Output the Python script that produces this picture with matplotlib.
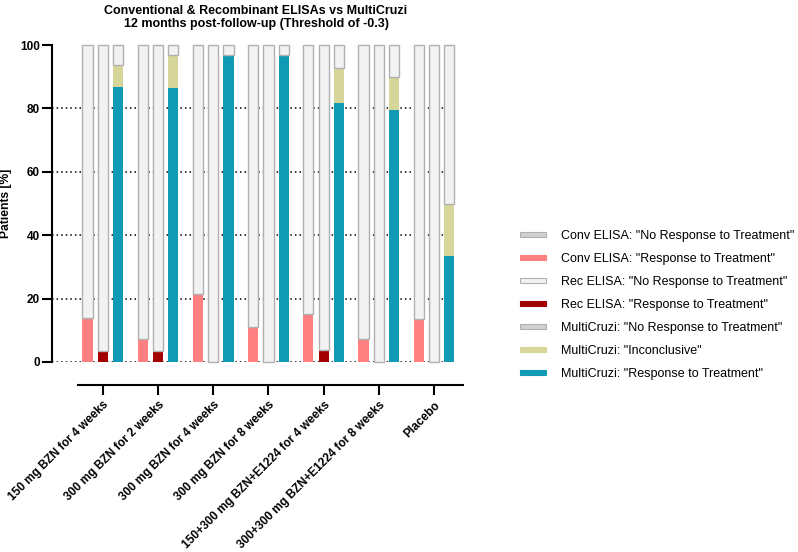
import matplotlib
matplotlib.use("Agg")
import matplotlib.pyplot as plt
from matplotlib.patches import Rectangle
import numpy as np

plt.rcParams['font.family'] = ['Liberation Sans', 'DejaVu Sans']

categories = ["150 mg BZN for 4 weeks", "300 mg BZN for 2 weeks", "300 mg BZN for 4 weeks",
              "300 mg BZN for 8 weeks", "150+300 mg BZN+E1224 for 4 weeks",
              "300+300 mg BZN+E1224 for 8 weeks", "Placebo"]

conv_resp = [13.8, 7.1, 21.6, 11.0, 15.0, 7.1, 13.6]
conv_nores = [86.2, 92.9, 78.4, 89.0, 85.0, 92.9, 86.4]
rec_resp = [3.4, 3.6, 0.0, 0.0, 3.9, 0.0, 0.0]
rec_nores = [96.6, 96.4, 100.0, 100.0, 96.1, 100.0, 100.0]
mc_resp = [86.8, 86.3, 96.7, 96.7, 81.7, 79.5, 33.3]
mc_incon = [6.8, 10.4, 0.0, 0.0, 11.2, 10.4, 16.7]
mc_nores = [6.4, 3.3, 3.3, 3.3, 7.1, 10.1, 50.0]

yticks = [0, 20, 40, 60, 80, 100]

C_PINK = '#FF8080'
C_RED = '#A30000'
C_TEAL = '#119AB4'
C_INC = '#D6D59A'
C_GRAYF = '#F2F2F2'
C_GRAYE = '#B0B0B0'

fig = plt.figure(figsize=(7.98, 5.52), dpi=100)
ax = fig.add_axes([52/798, 1-362/552, (460-52)/798, (362-45)/552])

x = np.arange(len(categories))
off = 0.277
w = 0.185

for yv in yticks[:-1]:
    ax.axhline(yv, xmin=0, xmax=0.985, color='black', lw=1.1, ls=(0, (1, 2)), zorder=0)

# Conv ELISA
ax.bar(x - off, conv_resp, w, color=C_PINK, lw=0, zorder=2)
ax.bar(x - off, conv_nores, w, bottom=conv_resp, color=C_GRAYF, edgecolor=C_GRAYE, lw=1.0, zorder=2)
# Rec ELISA
ax.bar(x, rec_resp, w, color=C_RED, lw=0, zorder=2)
ax.bar(x, rec_nores, w, bottom=rec_resp, color=C_GRAYF, edgecolor=C_GRAYE, lw=1.0, zorder=2)
# MultiCruzi
ax.bar(x + off, mc_resp, w, color=C_TEAL, lw=0, zorder=2)
ax.bar(x + off, mc_incon, w, bottom=mc_resp, color=C_INC, lw=0, zorder=2)
ax.bar(x + off, mc_nores, w, bottom=np.add(mc_resp, mc_incon), color=C_GRAYF,
       edgecolor=C_GRAYE, lw=1.0, zorder=2)

for p in ax.patches:
    p.set_clip_on(False)

ax.set_xlim(-0.92, 6.47)
ax.set_ylim(0, 100)
ax.spines['top'].set_visible(False)
ax.spines['right'].set_visible(False)
ax.spines['left'].set_linewidth(1.5)
ax.spines['left'].set_bounds(0, 100)
ax.spines['bottom'].set_linewidth(1.5)
ax.spines['bottom'].set_position(('outward', 16.5))
ax.spines['bottom'].set_bounds(-0.45, 6.52)

ax.set_yticks(yticks)
ax.set_yticklabels([str(v) for v in yticks], fontweight='bold', fontsize=8.5)
ax.tick_params(axis='y', direction='out', length=7.2, width=1.5, pad=1.5)
ax.set_xticks(x)
ax.set_xticklabels(categories, rotation=45, ha='right', va='top', rotation_mode='anchor',
                   fontweight='bold', fontsize=8.5)
ax.tick_params(axis='x', direction='out', length=7.2, width=1.5, pad=3)

ax.set_ylabel('Patients [%]', fontweight='bold', fontsize=8.7, labelpad=6)

fig.text(256/798, 1-5/552, 'Conventional & Recombinant ELISAs vs MultiCruzi\n12 months post-follow-up (Threshold of -0.3)',
         ha='center', va='top', fontweight='bold', fontsize=9, linespacing=1.1)

handles = [
    Rectangle((0, 0), 1, 1, facecolor='#D0D0D0', edgecolor=C_GRAYE, lw=0.8),
    Rectangle((0, 0), 1, 1, facecolor=C_PINK, edgecolor=C_PINK, lw=0.8),
    Rectangle((0, 0), 1, 1, facecolor=C_GRAYF, edgecolor=C_GRAYE, lw=0.8),
    Rectangle((0, 0), 1, 1, facecolor=C_RED, edgecolor=C_RED, lw=0.8),
    Rectangle((0, 0), 1, 1, facecolor='#D0D0D0', edgecolor=C_GRAYE, lw=0.8),
    Rectangle((0, 0), 1, 1, facecolor=C_INC, edgecolor=C_INC, lw=0.8),
    Rectangle((0, 0), 1, 1, facecolor=C_TEAL, edgecolor=C_TEAL, lw=0.8),
]
labels = ['Conv ELISA: "No Response to Treatment"', 'Conv ELISA: "Response to Treatment"',
          'Rec ELISA: "No Response to Treatment"', 'Rec ELISA: "Response to Treatment"',
          'MultiCruzi: "No Response to Treatment"', 'MultiCruzi: "Inconclusive"',
          'MultiCruzi: "Response to Treatment"']
fig.legend(handles, labels, loc='center left', bbox_to_anchor=(520/798, 1-305/552),
           frameon=False, fontsize=9, handlelength=2.1, handleheight=0.35,
           handletextpad=1.2, labelspacing=0.88, borderpad=0, borderaxespad=0)

fig.savefig('out.png', dpi=100)
